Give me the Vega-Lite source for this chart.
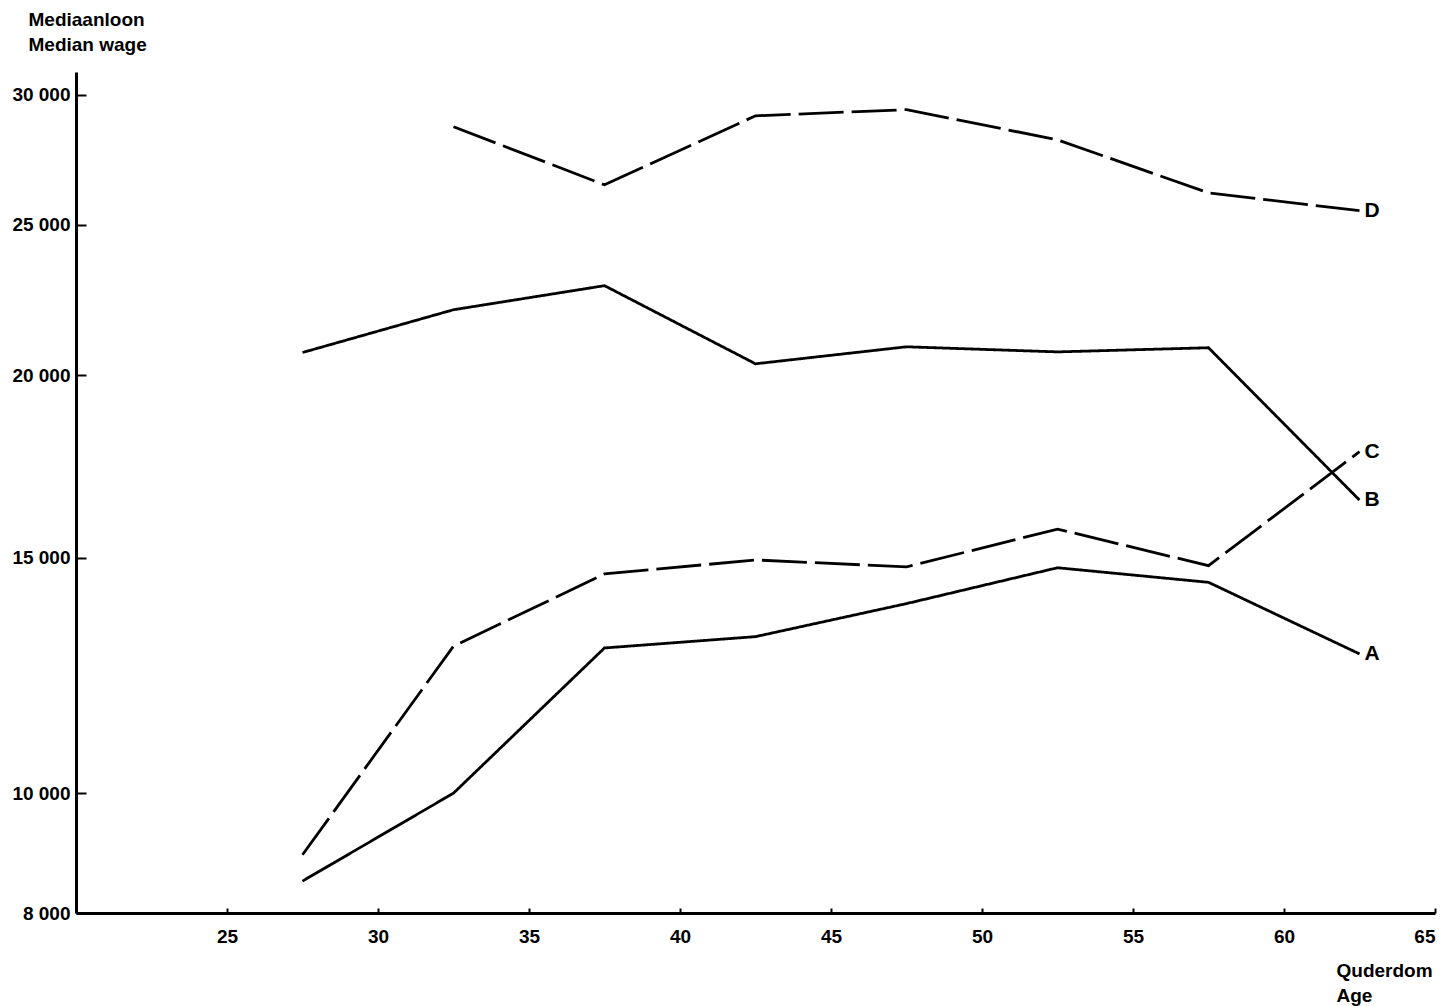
{
  "$schema": "https://vega.github.io/schema/vega-lite/v6.json",
  "autosize": "none",
  "padding": {"left": 76, "top": 72, "right": 8, "bottom": 93},
  "width": 1359,
  "height": 841,
  "background": "white",
  "config": {
    "view": {"stroke": null},
    "font": "Liberation Sans",
    "axis": {"grid": false, "domainColor": "black", "tickColor": "black", "labelColor": "black", "titleColor": "black", "labelFont": "Liberation Sans", "titleFont": "Liberation Sans", "labelFontWeight": "bold", "titleFontWeight": "bold"}
  },
  "data": {
    "values": [
      {"age": 27.5, "wage": 8500, "series": "A"},
      {"age": 32.5, "wage": 10000, "series": "A"},
      {"age": 37.5, "wage": 12900, "series": "A"},
      {"age": 42.5, "wage": 13150, "series": "A"},
      {"age": 47.5, "wage": 13900, "series": "A"},
      {"age": 52.5, "wage": 14750, "series": "A"},
      {"age": 57.5, "wage": 14400, "series": "A"},
      {"age": 62.5, "wage": 12770, "series": "A"},
      {"age": 27.5, "wage": 20700, "series": "B"},
      {"age": 32.5, "wage": 22070, "series": "B"},
      {"age": 37.5, "wage": 22870, "series": "B"},
      {"age": 42.5, "wage": 20350, "series": "B"},
      {"age": 47.5, "wage": 20880, "series": "B"},
      {"age": 52.5, "wage": 20720, "series": "B"},
      {"age": 57.5, "wage": 20850, "series": "B"},
      {"age": 62.5, "wage": 16460, "series": "B"},
      {"age": 27.5, "wage": 8930, "series": "C"},
      {"age": 32.5, "wage": 12940, "series": "C"},
      {"age": 37.5, "wage": 14600, "series": "C"},
      {"age": 42.5, "wage": 14940, "series": "C"},
      {"age": 47.5, "wage": 14770, "series": "C"},
      {"age": 52.5, "wage": 15710, "series": "C"},
      {"age": 57.5, "wage": 14800, "series": "C"},
      {"age": 62.5, "wage": 17770, "series": "C"},
      {"age": 32.5, "wage": 28710, "series": "D"},
      {"age": 37.5, "wage": 26460, "series": "D"},
      {"age": 42.5, "wage": 29150, "series": "D"},
      {"age": 47.5, "wage": 29400, "series": "D"},
      {"age": 52.5, "wage": 28190, "series": "D"},
      {"age": 57.5, "wage": 26160, "series": "D"},
      {"age": 62.5, "wage": 25500, "series": "D"}
    ]
  },
  "encoding": {
    "x": {
      "field": "age", "type": "quantitative",
      "scale": {"domain": [20, 65], "nice": false, "zero": false},
      "axis": {
        "values": [25, 30, 35, 40, 45, 50, 55, 60, 65],
        "domainWidth": 3, "tickWidth": 2, "tickSize": -5,
        "labelPadding": 19, "labelFontSize": 19,
        "title": ["Quderdom", "Age"],
        "titleFontSize": 19, "titleAngle": 0, "titleAlign": "left", "titleBaseline": "top",
        "titleX": 1260, "titleY": 48, "titleLineHeight": 25
      }
    },
    "y": {
      "field": "wage", "type": "quantitative",
      "scale": {"type": "pow", "exponent": 0.25, "domain": [8000, 30960], "nice": false, "zero": false},
      "axis": {
        "values": [8000, 10000, 15000, 20000, 25000, 30000],
        "labelExpr": "replace(format(datum.value, ','), ',', ' ')",
        "domainWidth": 3, "tickWidth": 2, "tickSize": -10,
        "labelPadding": 16, "labelFontSize": 19,
        "title": ["Mediaanloon", "Median wage"],
        "titleFontSize": 19, "titleAngle": 0, "titleAlign": "left", "titleBaseline": "top",
        "titleX": -48, "titleY": -62, "titleLineHeight": 25
      }
    }
  },
  "layer": [
    {
      "mark": {"type": "line", "color": "black", "strokeWidth": 2.8, "strokeJoin": "miter"},
      "encoding": {
        "detail": {"field": "series"},
        "strokeDash": {
          "field": "series", "type": "nominal",
          "scale": {"domain": ["A", "B", "C", "D"], "range": [[1, 0], [1, 0], [45, 8], [45, 8]]},
          "legend": null
        }
      }
    },
    {
      "transform": [{"filter": "datum.age == 62.5"}],
      "mark": {"type": "text", "align": "left", "baseline": "middle", "dx": 5, "fontSize": 21, "fontWeight": "bold", "color": "black"},
      "encoding": {"text": {"field": "series"}}
    }
  ]
}
